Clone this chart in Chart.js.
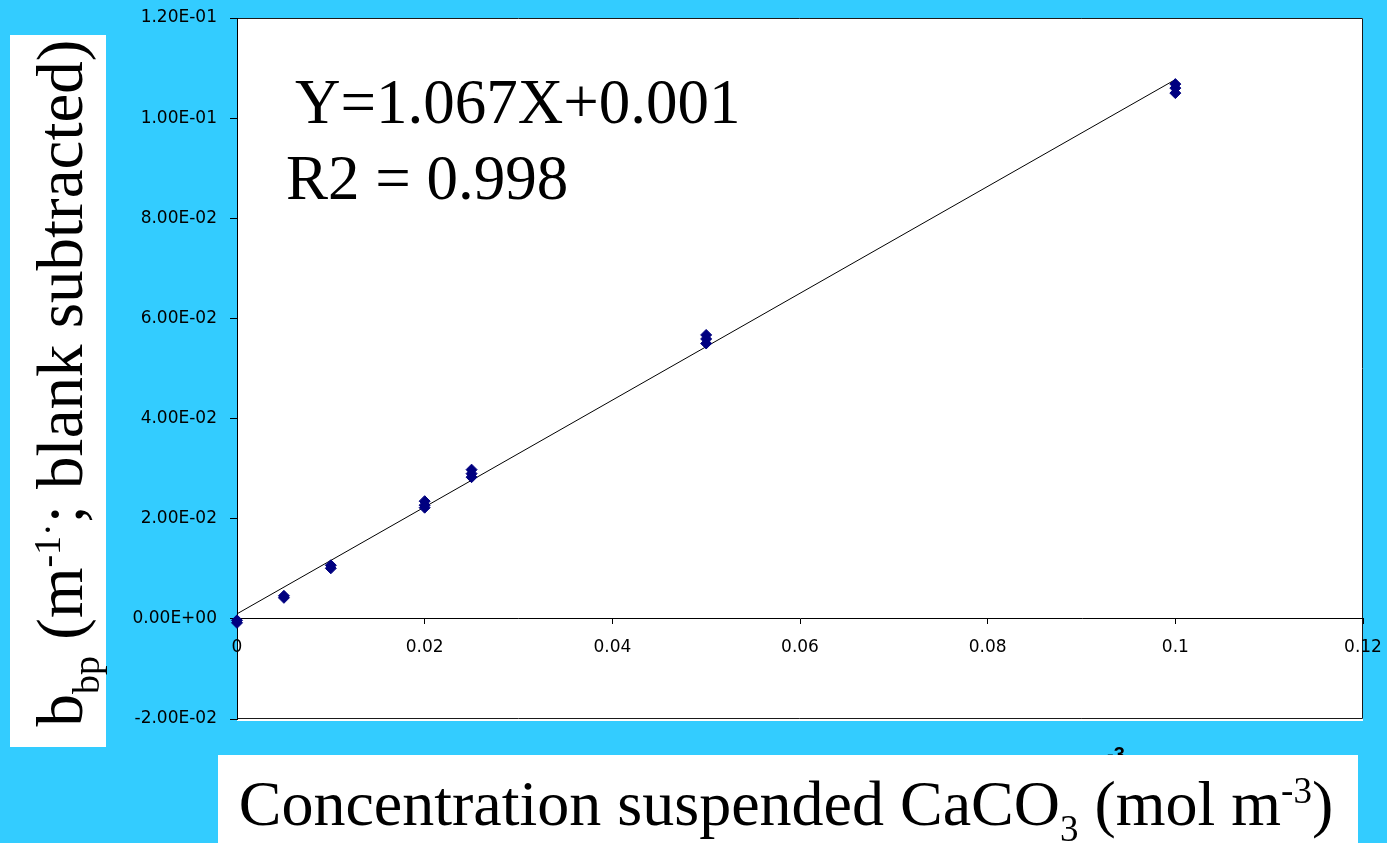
<!DOCTYPE html>
<html>
<head>
<meta charset="utf-8">
<title>bbp vs CaCO3 concentration</title>
<script src="https://cdn.jsdelivr.net/npm/chart.js@4.4.1/dist/chart.umd.min.js"></script>
<style>
  html, body { margin: 0; padding: 0; background: #33CCFF; }
  canvas { display: block; }
</style>
</head>
<body>
<canvas id="chart" width="1387" height="843"></canvas>
<script>
// Suspended CaCO3 concentration (mol m-3) for each replicate measurement
const concentration = [0, 0, 0.005, 0.005, 0.01, 0.01, 0.02, 0.02, 0.02, 0.025, 0.025, 0.025, 0.05, 0.05, 0.05, 0.1, 0.1, 0.1];
// Particulate backscattering, blank subtracted (m-1)
const bbpMeasured = [-0.0003, -0.0008, 0.0046, 0.0042, 0.0107, 0.0101, 0.0235, 0.0227, 0.0222, 0.0298, 0.0290, 0.0283, 0.0567, 0.0559, 0.0550, 0.1068, 0.1060, 0.1050];

// Linear regression reported on the chart
const fitSlope = 1.067;
const fitIntercept = 0.001;
const fitRange = [0, 0.1];
const fitLabel = 'Y=1.067X+0.001';
const r2Label = 'R2 = 0.998';

// Axis ticks
const xTickValues = [0, 0.02, 0.04, 0.06, 0.08, 0.1, 0.12];
const xTickLabels = ['0', '0.02', '0.04', '0.06', '0.08', '0.1', '0.12'];
const yTickValues = [-0.02, 0, 0.02, 0.04, 0.06, 0.08, 0.1, 0.12];
const yTickLabels = ['-2.00E-02', '0.00E+00', '2.00E-02', '4.00E-02', '6.00E-02', '8.00E-02', '1.00E-01', '1.20E-01'];

const points = concentration.map((x, i) => ({ x: x, y: bbpMeasured[i] }));
const fitLine = fitRange.map(x => ({ x: x, y: fitSlope * x + fitIntercept }));

const SERIF = '"Liberation Serif", "Times New Roman", serif';
const TICK_FONT = { family: '"DejaVu Sans", sans-serif', size: 17 };

// Draws a run of text pieces (with sub/superscripts) along the baseline
function drawRich(ctx, parts, x, y, align) {
  let total = 0;
  parts.forEach(p => {
    ctx.font = p.size + 'px ' + SERIF;
    p.w = ctx.measureText(p.t).width;
    total += p.w;
  });
  let cx = align === 'center' ? x - total / 2 : x;
  ctx.textAlign = 'left';
  ctx.textBaseline = 'alphabetic';
  parts.forEach(p => {
    ctx.font = p.size + 'px ' + SERIF;
    ctx.fillText(p.t, cx, y + (p.dy || 0));
    cx += p.w;
  });
}

// Keep the plot area exactly where the layout padding puts it
function noScalePadding(scale) {
  scale.paddingLeft = 0;
  scale.paddingRight = 0;
  scale.paddingTop = 0;
  scale.paddingBottom = 0;
}

const decorations = {
  id: 'decorations',
  beforeDraw(chart) {
    const { ctx, chartArea: a } = chart;
    ctx.save();
    ctx.fillStyle = '#33CCFF';
    ctx.fillRect(0, 0, chart.width, chart.height);

    // tip of an older unit superscript peeking above the title box
    ctx.fillStyle = '#000';
    ctx.font = 'bold 20px "Liberation Sans", Arial, sans-serif';
    ctx.textAlign = 'left';
    ctx.textBaseline = 'alphabetic';
    ctx.fillText('-3', 1107, 761);

    // white title boxes
    ctx.fillStyle = '#FFFFFF';
    ctx.fillRect(10, 35, 96, 712);
    ctx.fillRect(218, 755, 1140, 88);

    // plot area
    ctx.fillRect(a.left, a.top, a.right - a.left, a.bottom - a.top + 2);
    ctx.strokeStyle = '#1a1a1a';
    ctx.lineWidth = 1;
    ctx.beginPath();
    ctx.moveTo(a.left, a.top + 0.5);
    ctx.lineTo(a.right - 0.5, a.top + 0.5);
    ctx.lineTo(a.right - 0.5, a.bottom - 0.5);
    ctx.lineTo(a.left, a.bottom - 0.5);
    ctx.stroke();
    ctx.restore();
  },
  afterDraw(chart) {
    const { ctx } = chart;
    ctx.save();
    ctx.fillStyle = '#000';

    // regression annotation
    drawRich(ctx, [{ t: fitLabel, size: 63 }], 295, 123, 'left');
    drawRich(ctx, [{ t: r2Label, size: 63 }], 286, 199, 'left');

    // x axis title
    drawRich(ctx, [
      { t: 'Concentration suspended CaCO', size: 64 },
      { t: '3', size: 37, dy: 16 },
      { t: ' (mol m', size: 64 },
      { t: '-3', size: 37, dy: -22 },
      { t: ')', size: 64 }
    ], 786, 825, 'center');

    // y axis title, rotated
    ctx.translate(82, 383);
    ctx.rotate(-Math.PI / 2);
    drawRich(ctx, [
      { t: 'b', size: 65 },
      { t: 'bp', size: 38, dy: 17 },
      { t: ' (m', size: 65 },
      { t: '-1\u00B7', size: 38, dy: -22 },
      { t: '; blank subtracted)', size: 65 }
    ], 0, 0, 'center');
    ctx.restore();
  }
};

new Chart(document.getElementById('chart'), {
  type: 'scatter',
  data: {
    datasets: [
      {
        label: 'bbp',
        data: points,
        pointStyle: 'rectRot',
        pointRadius: 5.5,
        pointHoverRadius: 5.5,
        backgroundColor: '#000080',
        borderColor: '#000080',
        borderWidth: 1,
        clip: false
      },
      {
        label: 'fit',
        type: 'line',
        data: fitLine,
        borderColor: '#000000',
        borderWidth: 1,
        pointRadius: 0,
        fill: false,
        tension: 0
      }
    ]
  },
  options: {
    responsive: false,
    devicePixelRatio: 1,
    animation: false,
    layout: { padding: { left: 0, top: 18, right: 24, bottom: 124 } },
    plugins: {
      legend: { display: false },
      tooltip: { enabled: false }
    },
    scales: {
      x: {
        type: 'linear',
        position: { y: 0 },
        min: 0,
        max: 0.12,
        afterBuildTicks: (scale) => { scale.ticks = xTickValues.map(v => ({ value: v })); },
        afterFit: noScalePadding,
        ticks: {
          autoSkip: false,
          maxRotation: 0,
          padding: 14,
          color: '#000',
          font: TICK_FONT,
          callback: (value, index) => xTickLabels[index]
        },
        grid: { drawOnChartArea: false, drawTicks: true, tickLength: 5, color: '#000' },
        border: { display: true, color: '#000', width: 1 }
      },
      y: {
        type: 'linear',
        position: 'left',
        min: -0.02,
        max: 0.12,
        afterBuildTicks: (scale) => { scale.ticks = yTickValues.map(v => ({ value: v })); },
        afterFit: (scale) => { noScalePadding(scale); scale.width = 237; },
        ticks: {
          autoSkip: false,
          padding: 13,
          color: '#000',
          font: TICK_FONT,
          callback: (value, index) => yTickLabels[index]
        },
        grid: { drawOnChartArea: false, drawTicks: true, tickLength: 7, color: '#000' },
        border: { display: true, color: '#000', width: 1 }
      }
    }
  },
  plugins: [decorations]
});
</script>
</body>
</html>
